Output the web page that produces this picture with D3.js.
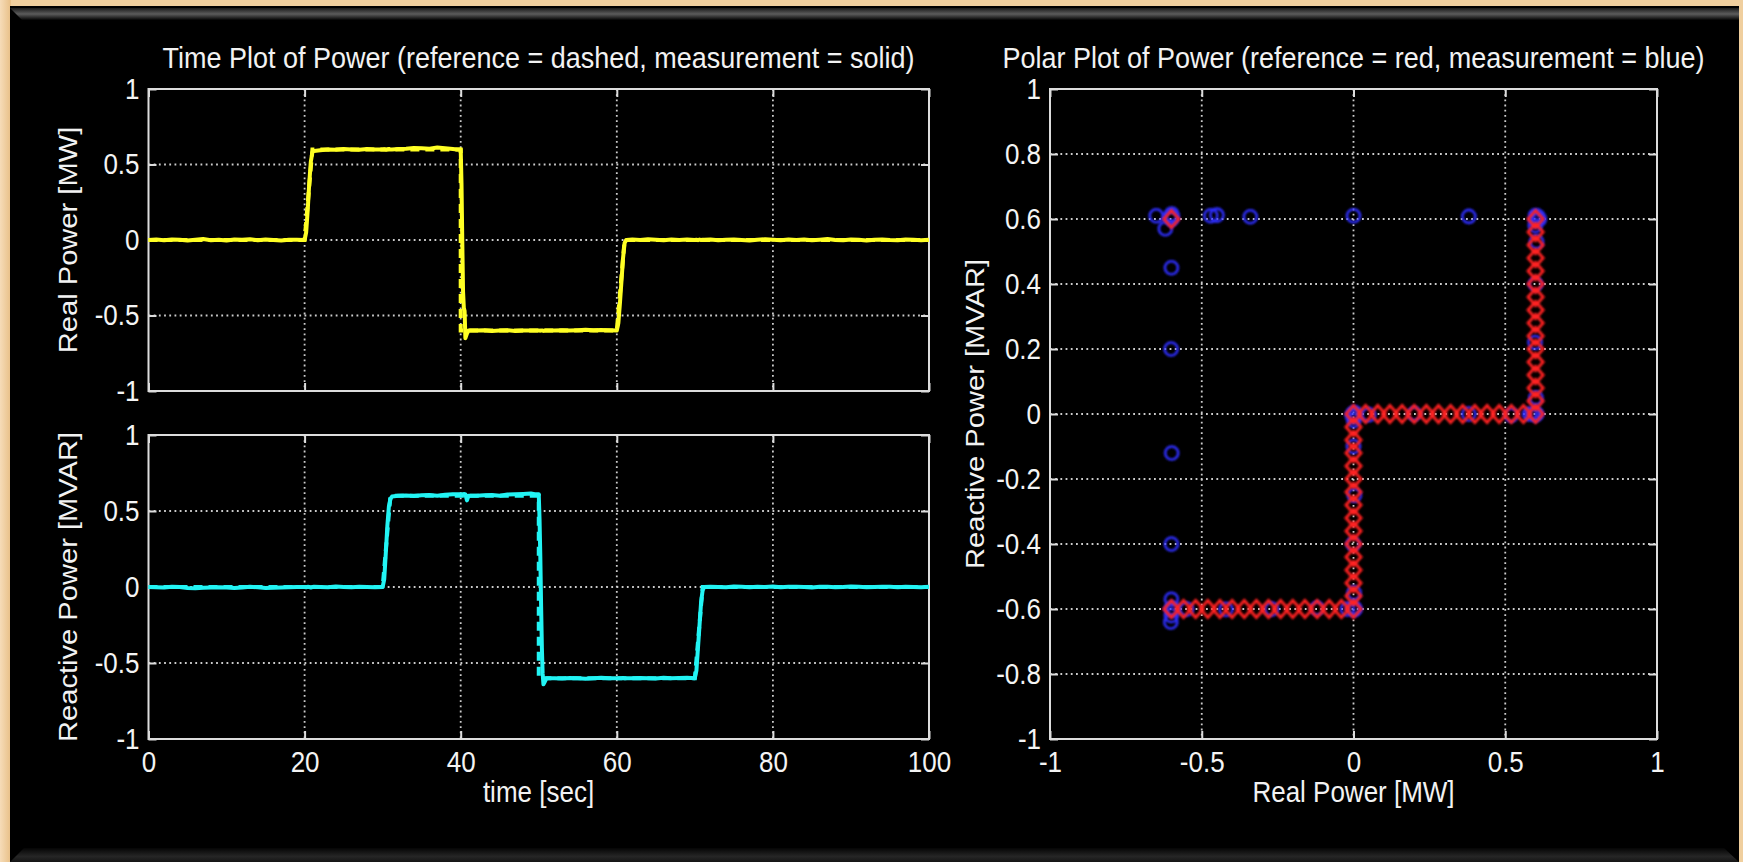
<!DOCTYPE html>
<html>
<head>
<meta charset="utf-8">
<script src="https://cdn.jsdelivr.net/npm/d3@7"></script>
<style>
  body { margin: 0; background: #000; }
  text { font-family: "Liberation Sans", Arial, sans-serif; fill: #f2f2f2; }
</style>
</head>
<body>
<script>
// canvas size
var width = 1743, height = 862;

// ---- data ----
// tick labels
var timeTicks = [0, 20, 40, 60, 80, 100];
var powerTicks = [-1, -0.5, 0, 0.5, 1];
var polarXTicks = [-1, -0.5, 0, 0.5, 1];
var polarYTicks = [-1, -0.8, -0.6, -0.4, -0.2, 0, 0.2, 0.4, 0.6, 0.8, 1];

// reference set points (dashed)
var tRef = [0, 20, 21, 30, 31, 40, 40, 50, 50, 60, 61, 70, 71, 100];
var pRef = [0, 0, 0.6, 0.6, 0.6, 0.6, -0.6, -0.6, -0.6, -0.6, 0, 0, 0, 0];
var qRef = [0, 0, 0, 0, 0.6, 0.6, 0.6, 0.6, -0.6, -0.6, -0.6, -0.6, 0, 0];

// measured samples (solid / blue circles)
var tMeas = [0,1,2,3,4,5,6,7,8,9,10,11,12,13,14,15,16,17,18,19,
  20,20.2,20.4,20.6,20.8,21,21.2,
  22,23,24,25,26,27,28,29,
  30,30.2,30.4,30.6,30.8,31,31.2,
  32,33,34,35,36,37,38,39,39.5,
  40,40.1,40.2,40.3,40.4,40.5,40.6,40.8,41,
  42,43,44,45,46,47,48,49,49.5,
  50,50.1,50.2,50.3,50.4,50.5,50.6,50.8,51,
  52,53,54,55,56,57,58,59,
  60,60.2,60.4,60.6,60.8,61,61.2,
  62,63,64,65,66,67,68,69,
  70,70.2,70.4,70.6,70.8,71,71.2,
  72,73,74,75,76,77,78,79,80,81,82,83,84,85,86,87,88,89,90,91,92,93,94,95,96,97,98,99,100];

var pMeas = [0,0.004,-0.002,0.003,0.001,-0.003,0.002,0.006,-0.001,0.002,-0.004,0.003,0.001,0.005,-0.002,0.004,0,-0.003,0.002,0.001,
  0,0.05,0.2,0.38,0.52,0.58,0.59,
  0.595,0.6,0.598,0.603,0.6,0.597,0.602,0.599,
  0.6,0.601,0.598,0.6,0.603,0.599,0.6,
  0.602,0.605,0.61,0.607,0.605,0.612,0.608,0.603,0.6,
  0.6,0.38,0,-0.34,-0.45,-0.47,-0.65,-0.62,-0.6,
  -0.6,-0.598,-0.603,-0.6,-0.597,-0.602,-0.6,-0.599,-0.6,
  -0.6,-0.6,-0.601,-0.599,-0.6,-0.6,-0.602,-0.6,-0.6,
  -0.6,-0.598,-0.6,-0.597,-0.595,-0.598,-0.596,-0.598,
  -0.6,-0.55,-0.42,-0.27,-0.12,-0.02,0,
  0.003,0,0.005,0.002,-0.002,0.004,0,0.003,
  0,0.002,-0.001,0.003,0,0.001,0.002,
  0.003,-0.002,0.001,0.004,0,-0.003,0.002,0.005,0.001,-0.002,0.003,0,0.004,-0.001,0.002,0.006,0,-0.002,0.003,0.001,-0.003,0.002,0.004,0,-0.001,0.003,0.002,-0.002,0.001];

var qMeas = [0,-0.002,-0.004,0.002,0,-0.006,-0.008,-0.005,-0.003,-0.002,-0.004,-0.006,-0.003,0.002,-0.002,-0.006,-0.005,-0.004,-0.002,0,
  0,-0.002,0.001,0,-0.003,0,0.001,
  0,-0.002,0.003,0,-0.001,0.002,0,-0.002,
  0,0.05,0.22,0.4,0.53,0.58,0.595,
  0.6,0.602,0.598,0.603,0.605,0.6,0.607,0.61,0.61,
  0.61,0.608,0.61,0.607,0.612,0.61,0.61,0.57,0.6,
  0.6,0.603,0.605,0.6,0.608,0.61,0.612,0.615,0.61,
  0.61,0.45,0.2,-0.12,-0.4,-0.57,-0.64,-0.62,-0.6,
  -0.6,-0.602,-0.598,-0.6,-0.603,-0.6,-0.597,-0.6,
  -0.6,-0.6,-0.601,-0.6,-0.598,-0.6,-0.6,
  -0.6,-0.598,-0.6,-0.602,-0.597,-0.6,-0.598,-0.597,
  -0.6,-0.55,-0.4,-0.25,-0.1,-0.02,0,
  0.002,0,-0.002,0.003,0.001,-0.001,0.002,0,0.003,-0.002,0.001,0.002,0,-0.003,0.001,0.002,-0.001,0,0.003,0.001,-0.002,0,0.002,0.001,-0.001,0.002,0,-0.002,0.001];

// reference path in the P-Q plane (red diamonds)
var polarRefP = [-0.6,
  -0.6,-0.56,-0.52,-0.48,-0.44,-0.4,-0.36,-0.32,-0.28,-0.24,-0.2,-0.16,-0.12,-0.08,-0.04,0,
  0,0,0,0,0,0,0,0,0,0,0,0,0,0,0,
  0.04,0.08,0.12,0.16,0.2,0.24,0.28,0.32,0.36,0.4,0.44,0.48,0.52,0.56,0.6,
  0.6,0.6,0.6,0.6,0.6,0.6,0.6,0.6,0.6,0.6,0.6,0.6,0.6,0.6,0.6];
var polarRefQ = [0.6,
  -0.6,-0.6,-0.6,-0.6,-0.6,-0.6,-0.6,-0.6,-0.6,-0.6,-0.6,-0.6,-0.6,-0.6,-0.6,-0.6,
  -0.56,-0.52,-0.48,-0.44,-0.4,-0.36,-0.32,-0.28,-0.24,-0.2,-0.16,-0.12,-0.08,-0.04,0,
  0,0,0,0,0,0,0,0,0,0,0,0,0,0,0,
  0.04,0.08,0.12,0.16,0.2,0.24,0.28,0.32,0.36,0.4,0.44,0.48,0.52,0.56,0.6];

var yellow = '#ffff24', cyan = '#22f4f4';
var gridColor = '#cccccc', boxColor = '#dcdcdc';
var tickFont = "26px", labelFont = "26px", titleFont = "27px";
var stretch = 1.12;   // the source text is a bit taller than it is wide

var svg = d3.select("body").append("svg")
    .attr("width", width)
    .attr("height", height);

var defs = svg.append("defs");
var topBevel = defs.append("linearGradient").attr("id", "topBevel")
    .attr("x1", 0).attr("y1", 0).attr("x2", 0).attr("y2", 1);
topBevel.append("stop").attr("offset", "0%").attr("stop-color", "#1a1a1a");
topBevel.append("stop").attr("offset", "50%").attr("stop-color", "#5c5c5c");
topBevel.append("stop").attr("offset", "100%").attr("stop-color", "#050505");
var botBevel = defs.append("linearGradient").attr("id", "botBevel")
    .attr("x1", 0).attr("y1", 0).attr("x2", 0).attr("y2", 1);
botBevel.append("stop").attr("offset", "0%").attr("stop-color", "#050505");
botBevel.append("stop").attr("offset", "60%").attr("stop-color", "#262626");
botBevel.append("stop").attr("offset", "100%").attr("stop-color", "#151515");
var tan = defs.append("linearGradient").attr("id", "tan")
    .attr("x1", 0).attr("y1", 0).attr("x2", 1).attr("y2", 0);
tan.append("stop").attr("offset", "0%").attr("stop-color", "#f6dcb8");
tan.append("stop").attr("offset", "100%").attr("stop-color", "#e8bf86");
defs.append("filter").attr("id", "glow")
    .append("feGaussianBlur").attr("stdDeviation", 1.1);

// frame
svg.append("rect").attr("width", width).attr("height", height).style("fill", "#f0cf9e");
svg.append("rect").attr("x", 0).attr("y", 0).attr("width", 11).attr("height", height).style("fill", "url(#tan)");
svg.append("rect").attr("x", 10).attr("y", 6).attr("width", 1729).attr("height", height - 6).style("fill", "#000");
svg.append("path")
    .attr("d", "M10,8 L1739,8 L1739,20 L22,20 Z")
    .style("fill", "url(#topBevel)");
svg.append("path")
    .attr("d", "M24,848 L1724,848 L1739,862 L10,862 Z")
    .style("fill", "url(#botBevel)");

function fmt(d) { return String(d); }

function drawFrame(g, x, y, xTicks, yTicks, xLabels) {
    var x0 = x.range()[0], x1 = x.range()[1];
    var y0 = y.range()[1], y1 = y.range()[0];

    // dotted grid
    g.selectAll(".vgrid").data(xTicks.slice(1, -1)).enter().append("line")
        .attr("x1", function(d){ return x(d); }).attr("x2", function(d){ return x(d); })
        .attr("y1", y0).attr("y2", y1)
        .style("stroke", gridColor).style("stroke-width", 1.8)
        .style("stroke-dasharray", "1.8,3.4");
    g.selectAll(".hgrid").data(yTicks.slice(1, -1)).enter().append("line")
        .attr("y1", function(d){ return y(d); }).attr("y2", function(d){ return y(d); })
        .attr("x1", x0).attr("x2", x1)
        .style("stroke", gridColor).style("stroke-width", 1.8)
        .style("stroke-dasharray", "1.8,3.4");

    var bottom = d3.axisBottom(x).tickValues(xTicks).tickSizeInner(-8).tickSizeOuter(0)
        .tickPadding(11).tickFormat(xLabels ? fmt : "");
    var topAx = d3.axisTop(x).tickValues(xTicks).tickSizeInner(-8).tickSizeOuter(0).tickFormat("");
    var left = d3.axisLeft(y).tickValues(yTicks).tickSizeInner(-8).tickSizeOuter(0)
        .tickPadding(9).tickFormat(fmt);
    var right = d3.axisRight(y).tickValues(yTicks).tickSizeInner(-8).tickSizeOuter(0).tickFormat("");

    var axes = [
        g.append("g").attr("transform", "translate(0," + y1 + ")").call(bottom),
        g.append("g").attr("transform", "translate(0," + y0 + ")").call(topAx),
        g.append("g").attr("transform", "translate(" + x0 + ",0)").call(left),
        g.append("g").attr("transform", "translate(" + x1 + ",0)").call(right)
    ];
    axes.forEach(function(a) {
        a.select(".domain").remove();
        a.selectAll("line").style("stroke", boxColor).style("stroke-width", 2);
        a.selectAll("text").style("font-size", tickFont).style("fill", "#f4f4f4")
            .attr("font-family", null)
            .attr("transform", "scale(1," + stretch + ")");
    });

    g.append("rect")
        .attr("x", x0).attr("y", y0)
        .attr("width", x1 - x0).attr("height", y1 - y0)
        .style("fill", "none").style("stroke", boxColor).style("stroke-width", 2);
}

function label(txt, x, y, size, rotated) {
    var tf = "translate(" + x + "," + y + ")" +
        (rotated ? " rotate(-90) scale(" + stretch + ",1)" : " scale(1," + stretch + ")");
    svg.append("text")
        .text(txt)
        .attr("transform", tf)
        .attr("text-anchor", "middle")
        .attr("font-size", size);
}

// ---- time plots ----
var xTime = d3.scaleLinear().domain([0, 100]).range([148.5, 929]);
var yReal = d3.scaleLinear().domain([-1, 1]).range([391, 89]);
var yReact = d3.scaleLinear().domain([-1, 1]).range([739, 435]);

var gTop = svg.append("g");
drawFrame(gTop, xTime, yReal, timeTicks, powerTicks, false);
var gBot = svg.append("g");
drawFrame(gBot, xTime, yReact, timeTicks, powerTicks, true);

var refIdx = d3.range(tRef.length), measIdx = d3.range(tMeas.length);

function timeLine(yScale, vals, ts) {
    return d3.line()
        .x(function(i){ return xTime(ts[i]); })
        .y(function(i){ return yScale(vals[i]); });
}

gTop.append("path").attr("d", timeLine(yReal, pRef, tRef)(refIdx))
    .style("fill", "none").style("stroke", yellow).style("stroke-width", 4)
    .style("stroke-dasharray", "9,6");
gTop.append("path").attr("d", timeLine(yReal, pMeas, tMeas)(measIdx))
    .style("fill", "none").style("stroke", yellow).style("stroke-width", 4)
    .style("stroke-linejoin", "round");

gBot.append("path").attr("d", timeLine(yReact, qRef, tRef)(refIdx))
    .style("fill", "none").style("stroke", cyan).style("stroke-width", 4)
    .style("stroke-dasharray", "9,6");
gBot.append("path").attr("d", timeLine(yReact, qMeas, tMeas)(measIdx))
    .style("fill", "none").style("stroke", cyan).style("stroke-width", 4)
    .style("stroke-linejoin", "round");

label("Time Plot of Power (reference = dashed, measurement = solid)", 538.5, 68, titleFont, false);
label("Real Power [MW]", 77, 240, labelFont, true);
label("Reactive Power [MVAR]", 77, 587, labelFont, true);
label("time [sec]", 538.5, 802, labelFont, false);

// ---- polar plot ----
var xP = d3.scaleLinear().domain([-1, 1]).range([1050, 1657]);
var yQ = d3.scaleLinear().domain([-1, 1]).range([739, 89]);

var gPol = svg.append("g");
drawFrame(gPol, xP, yQ, polarXTicks, polarYTicks, true);

gPol.append("g").attr("filter", "url(#glow)")
    .selectAll("circle").data(measIdx).enter().append("circle")
    .attr("cx", function(i){ return xP(pMeas[i]); })
    .attr("cy", function(i){ return yQ(qMeas[i]); })
    .attr("r", 6.5)
    .style("fill", "none").style("stroke", "#2e2eff").style("stroke-width", 2.6);

gPol.append("g").attr("filter", "url(#glow)")
    .selectAll("path").data(d3.range(polarRefP.length)).enter().append("path")
    .attr("transform", function(i){ return "translate(" + xP(polarRefP[i]) + "," + yQ(polarRefQ[i]) + ")"; })
    .attr("d", "M0,-8.5L7.5,0L0,8.5L-7.5,0Z")
    .style("fill", "none").style("stroke", "#ff2222").style("stroke-width", 3);

label("Polar Plot of Power (reference = red, measurement = blue)", 1353.5, 68, titleFont, false);
label("Reactive Power [MVAR]", 984, 414, labelFont, true);
label("Real Power [MW]", 1353.5, 802, labelFont, false);
</script>
</body>
</html>
